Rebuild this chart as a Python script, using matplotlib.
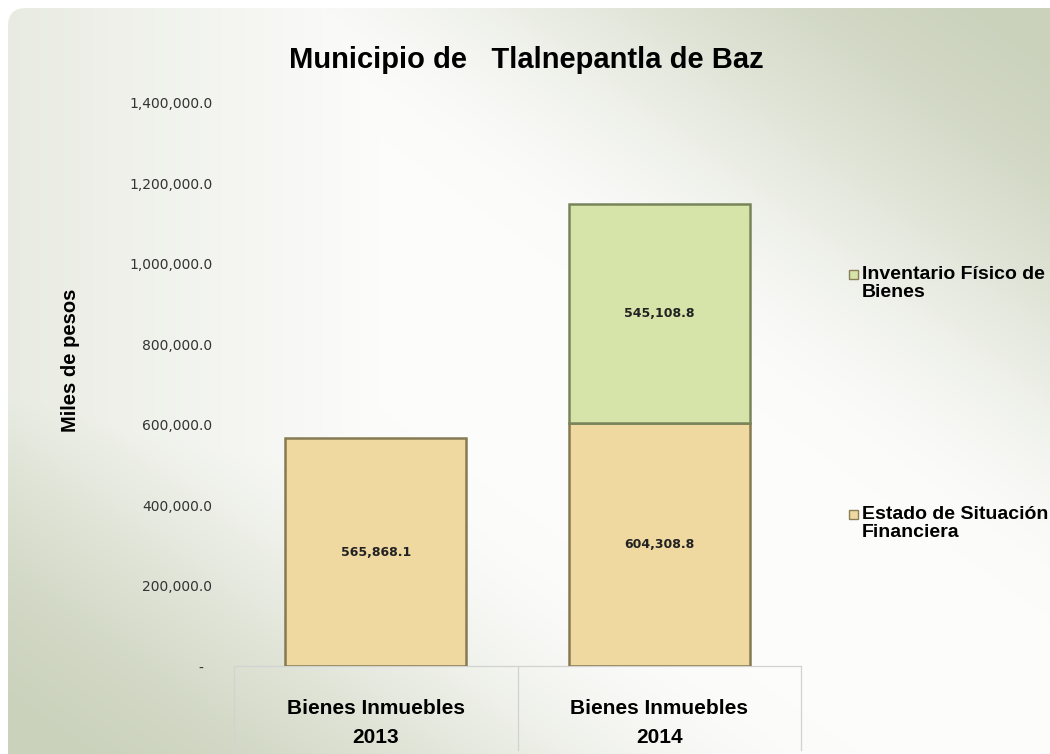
import numpy as np
import matplotlib
matplotlib.use("Agg")
import matplotlib.pyplot as plt
from matplotlib.patches import FancyBboxPatch, Rectangle
from matplotlib.ticker import FuncFormatter
import matplotlib.transforms as mtransforms

# Datos
categorias = ["Bienes Inmuebles\n2013", "Bienes Inmuebles\n2014"]
estado_situacion = [565868.1, 604308.8]
inventario_fisico = [0.0, 545108.8]
series = ["Estado de Situación\nFinanciera", "Inventario Físico de\nBienes"]
colores = ["#EFD9A1", "#D7E4A9"]
y_ticks = [0, 200000, 400000, 600000, 800000, 1000000, 1200000, 1400000]

W, H = 1050, 754
fig = plt.figure(figsize=(W / 100, H / 100), dpi=100)

# Fondo con degradado
bg = fig.add_axes([0, 0, 1, 1])
bg.axis("off")
yy, xx = np.mgrid[0:H, 0:W]
d = (754 * xx - 1050 * yy) / np.hypot(754, 1050)
t = np.clip((np.abs(d) - 110) / 480, 0, 1)
t = t * t * (3 - 2 * t)
t_izq = 0.4 * np.clip((380 - xx) / 380, 0, 1)
t = np.maximum(t, t_izq)
blanco = np.array([252, 252, 251]) / 255
verde = np.array([203, 210, 188]) / 255
img = blanco * (1 - t[..., None]) + verde * t[..., None]
im = bg.imshow(img, extent=[0, W, H, 0], interpolation="bilinear")
bg.set_xlim(0, W)
bg.set_ylim(H, 0)
marco = FancyBboxPatch((8, 8), W + 40, H + 40, boxstyle="round,pad=0,rounding_size=18",
                       transform=bg.transData, facecolor="none", edgecolor="none")
bg.add_patch(marco)
im.set_clip_path(marco)

# Grafica
ax = fig.add_axes([234 / W, 1 - 666 / H, (801 - 234) / W, (666 - 103) / H])
ax.patch.set_alpha(0)
for s in ax.spines.values():
    s.set_visible(False)

x = np.arange(len(categorias))
ancho = 0.64
b1 = ax.bar(x, estado_situacion, width=ancho, color=colores[0],
            edgecolor="#857a52", linewidth=1.8, zorder=3)
idx = [i for i, v in enumerate(inventario_fisico) if v > 0]
b2 = ax.bar(x[idx], [inventario_fisico[i] for i in idx], width=ancho,
            bottom=[estado_situacion[i] for i in idx], color=colores[1],
            edgecolor="#78855a", linewidth=1.8, zorder=3)

ax.bar_label(b1, labels=[f"{v:,.1f}" for v in estado_situacion], label_type="center",
             fontsize=9, fontweight="bold", color="#222222")
ax.bar_label(b2, labels=[f"{inventario_fisico[i]:,.1f}" for i in idx], label_type="center",
             fontsize=9, fontweight="bold", color="#222222")

ax.set_xlim(-0.5, len(categorias) - 0.5)
ax.set_ylim(0, 1400000)
ax.set_yticks(y_ticks)
ax.yaxis.set_major_formatter(FuncFormatter(lambda v, p: "-  " if v == 0 else f"{v:,.1f}"))
ax.tick_params(axis="y", length=0, pad=15.5, labelsize=10, labelcolor="#333333")
ax.set_xticks(x)
ax.set_xticklabels(categorias, fontsize=15, fontweight="bold", family="Liberation Sans",
                   linespacing=1.62)
ax.tick_params(axis="x", length=0, pad=24)

# Tabla de categorias
trans = mtransforms.blended_transform_factory(ax.transData, ax.transAxes)
ax.plot([-0.5, len(categorias) - 0.5], [0, 0], transform=trans, color="#d2d2d2",
        lw=0.9, clip_on=False, zorder=1)
for xv in np.arange(-0.5, len(categorias), 1.0):
    ax.plot([xv, xv], [0, -0.149], transform=trans, color="#d2d2d2", lw=0.9,
            clip_on=False, zorder=1)

# Titulos
fig.text(526 / W, 1 - 60 / H, "Municipio de   Tlalnepantla de Baz", ha="center", va="center",
         fontsize=21, fontweight="bold", family="Liberation Sans")
fig.text(70 / W, 1 - 360 / H, "Miles de pesos", ha="center", va="center", rotation=90,
         fontsize=14.5, fontweight="bold", family="Liberation Sans")

# Leyenda
pos_leyenda = [(1 - 515 / H), (1 - 275 / H)]
for nombre, color, yl in zip(series, colores, pos_leyenda):
    fig.patches.append(Rectangle((849 / W, yl - 4 / H), 9 / W, 9 / H, transform=fig.transFigure,
                                 facecolor=color, edgecolor="#8a7f58", lw=1.0))
    fig.text(862 / W, yl + 9 / H, nombre, ha="left", va="top", fontsize=14,
             fontweight="bold", family="Liberation Sans", linespacing=1.05)

fig.savefig("out.png", dpi=100)
